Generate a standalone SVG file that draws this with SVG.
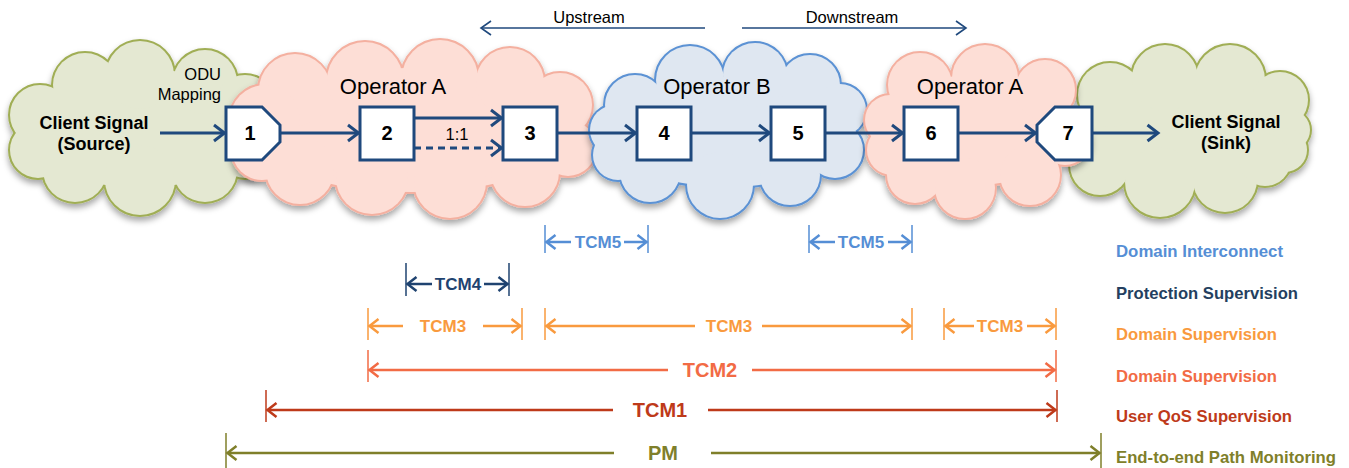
<svg xmlns="http://www.w3.org/2000/svg" xmlns:xlink="http://www.w3.org/1999/xlink" width="1349" height="468" viewBox="0 0 1349 468">
<style>
text{font-family:"Liberation Sans",Arial,sans-serif}
.num{font-size:20px;font-weight:bold;fill:#000;text-anchor:middle}
.lbl{font-size:16.5px;fill:#000;text-anchor:middle}
.op{font-size:22px;fill:#000;text-anchor:middle}
.cs{font-size:18px;font-weight:bold;fill:#000;text-anchor:middle}
.box{fill:#fff;stroke:#1F497D;stroke-width:3}
.flow{stroke:#1F497D;stroke-width:3;fill:none;marker-end:url(#mNavy)}
.dir{stroke:#1F497D;stroke-width:1.6;fill:none;marker-end:url(#mDir)}
.tk{stroke-width:1.5}
.seg{stroke-width:2.5;fill:none}
.t{font-size:17px;font-weight:bold;text-anchor:middle}
.tb{font-size:20px;font-weight:bold;text-anchor:middle}
.lg{font-size:17px;font-weight:bold}
.c5{stroke:#558ED5;fill:#558ED5}
.c4{stroke:#1F4370;fill:#1F4370}
.c3{stroke:#F99A3E;fill:#F99A3E}
.c2{stroke:#F26B45;fill:#F26B45}
.c1{stroke:#BE3A1A;fill:#BE3A1A}
.cp{stroke:#7F7F2A;fill:#7F7F2A}
.seg.c5{marker-end:url(#m5);fill:none}
.seg.c4{marker-end:url(#m4);fill:none}
.seg.c3{marker-end:url(#m3);fill:none}
.seg.c2{marker-end:url(#m2);fill:none}
.seg.c1{marker-end:url(#m1);fill:none}
.seg.cp{marker-end:url(#mp);fill:none}
text.c5,text.c4,text.c3,text.c2,text.c1,text.cp{stroke:none}
</style>
<defs>
<filter id="sh" x="-10%" y="-10%" width="120%" height="130%">
<feDropShadow dx="0" dy="4" stdDeviation="3" flood-color="#000" flood-opacity="0.35"/>
</filter>
<marker id="mNavy" markerUnits="userSpaceOnUse" markerWidth="20" markerHeight="20" refX="12" refY="9" orient="auto" overflow="visible"><path d="M1.5,1 L12,9 L1.5,17" fill="none" stroke="#1F497D" stroke-width="3"/></marker>
<marker id="mDir" markerUnits="userSpaceOnUse" markerWidth="20" markerHeight="20" refX="11" refY="8" orient="auto" overflow="visible"><path d="M1,1 L11,8 L1,15" fill="none" stroke="#1F497D" stroke-width="1.6"/></marker>
<marker id="m5" markerUnits="userSpaceOnUse" markerWidth="20" markerHeight="20" refX="10" refY="8" orient="auto" overflow="visible"><path d="M1,1 L10,8 L1,15" fill="none" stroke="#558ED5" stroke-width="2.5"/></marker>
<marker id="m4" markerUnits="userSpaceOnUse" markerWidth="20" markerHeight="20" refX="10" refY="8" orient="auto" overflow="visible"><path d="M1,1 L10,8 L1,15" fill="none" stroke="#1F4370" stroke-width="2.5"/></marker>
<marker id="m3" markerUnits="userSpaceOnUse" markerWidth="20" markerHeight="20" refX="10" refY="8" orient="auto" overflow="visible"><path d="M1,1 L10,8 L1,15" fill="none" stroke="#F99A3E" stroke-width="2.5"/></marker>
<marker id="m2" markerUnits="userSpaceOnUse" markerWidth="20" markerHeight="20" refX="10" refY="8" orient="auto" overflow="visible"><path d="M1,1 L10,8 L1,15" fill="none" stroke="#F26B45" stroke-width="2.5"/></marker>
<marker id="m1" markerUnits="userSpaceOnUse" markerWidth="20" markerHeight="20" refX="10" refY="8" orient="auto" overflow="visible"><path d="M1,1 L10,8 L1,15" fill="none" stroke="#BE3A1A" stroke-width="2.5"/></marker>
<marker id="mp" markerUnits="userSpaceOnUse" markerWidth="20" markerHeight="20" refX="10" refY="8" orient="auto" overflow="visible"><path d="M1,1 L10,8 L1,15" fill="none" stroke="#7F7F2A" stroke-width="2.5"/></marker>
<g id="cgL">
<ellipse cx="140" cy="128" rx="110" ry="60"/>
<circle cx="85" cy="85" r="32"/><circle cx="140" cy="75" r="34"/><circle cx="205" cy="82" r="32"/><circle cx="245" cy="105" r="30"/>
<circle cx="40" cy="115" r="30"/><circle cx="38" cy="150" r="28"/>
<circle cx="75" cy="170" r="32"/><circle cx="140" cy="180" r="35"/><circle cx="205" cy="170" r="32"/><circle cx="245" cy="150" r="28"/>
</g>
<g id="cpL">
<ellipse cx="412" cy="130" rx="165" ry="62"/>
<circle cx="295" cy="90" r="36"/><circle cx="365" cy="80" r="38"/><circle cx="440" cy="78" r="38"/><circle cx="510" cy="82" r="34"/><circle cx="560" cy="105" r="32"/>
<circle cx="265" cy="120" r="35"/><circle cx="262" cy="150" r="30"/>
<circle cx="300" cy="170" r="34"/><circle cx="372" cy="178" r="36"/><circle cx="450" cy="182" r="36"/><circle cx="525" cy="172" r="34"/><circle cx="568" cy="148" r="28"/>
</g>
<g id="cb">
<ellipse cx="727" cy="132" rx="120" ry="55"/>
<circle cx="635" cy="105" r="30"/><circle cx="690" cy="80" r="34"/><circle cx="755" cy="75" r="32"/><circle cx="810" cy="85" r="30"/><circle cx="840" cy="110" r="26"/>
<circle cx="615" cy="130" r="25"/><circle cx="618" cy="155" r="25"/>
<circle cx="650" cy="172" r="30"/><circle cx="720" cy="185" r="33"/><circle cx="790" cy="175" r="30"/><circle cx="835" cy="150" r="28"/>
</g>
<g id="cpR">
<ellipse cx="975" cy="130" rx="95" ry="55"/>
<circle cx="920" cy="85" r="32"/><circle cx="985" cy="78" r="33"/><circle cx="1045" cy="90" r="30"/>
<circle cx="890" cy="120" r="25"/><circle cx="892" cy="150" r="25"/>
<circle cx="915" cy="175" r="28"/><circle cx="965" cy="188" r="30"/><circle cx="1030" cy="175" r="30"/><circle cx="1065" cy="140" r="25"/>
</g>
<g id="cgR">
<ellipse cx="1185" cy="130" rx="110" ry="58"/>
<circle cx="1110" cy="95" r="32"/><circle cx="1165" cy="78" r="33"/><circle cx="1230" cy="80" r="35"/><circle cx="1280" cy="100" r="28"/>
<circle cx="1290" cy="130" r="20"/><circle cx="1285" cy="150" r="22"/>
<circle cx="1100" cy="165" r="30"/><circle cx="1160" cy="182" r="35"/><circle cx="1225" cy="180" r="32"/><circle cx="1265" cy="160" r="26"/>
</g>
</defs>

<g id="cloud-client-source">
<use xlink:href="#cgL" fill="#A0AE55" stroke="#A0AE55" stroke-width="4" filter="url(#sh)"/>
<use xlink:href="#cgL" fill="#E4E8D2"/>
</g>
<g id="cloud-client-sink">
<use xlink:href="#cgR" fill="#A0AE55" stroke="#A0AE55" stroke-width="4" filter="url(#sh)"/>
<use xlink:href="#cgR" fill="#E4E8D2"/>
</g>
<g id="cloud-operator-a-left">
<use xlink:href="#cpL" fill="#F4B0A0" stroke="#F4B0A0" stroke-width="4" filter="url(#sh)"/>
<use xlink:href="#cpL" fill="#FDDED6"/>
</g>
<g id="cloud-operator-b">
<use xlink:href="#cb" fill="#5B92D4" stroke="#5B92D4" stroke-width="4" filter="url(#sh)"/>
<use xlink:href="#cb" fill="#DFE7F1"/>
</g>
<g id="cloud-operator-a-right">
<use xlink:href="#cpR" fill="#F4B0A0" stroke="#F4B0A0" stroke-width="4" filter="url(#sh)"/>
<use xlink:href="#cpR" fill="#FDDED6"/>
</g>

<g id="labels">
<text class="cs" x="94" y="129">Client Signal</text>
<text class="cs" x="94" y="150">(Source)</text>
<text class="cs" x="1226" y="128">Client Signal</text>
<text class="cs" x="1226" y="149">(Sink)</text>
<text class="lbl" x="221" y="80" style="text-anchor:end">ODU</text>
<text class="lbl" x="221" y="100" style="text-anchor:end">Mapping</text>
<text class="op" x="393" y="94">Operator A</text>
<text class="op" x="717" y="94">Operator B</text>
<text class="op" x="970" y="94">Operator A</text>
<text class="lbl" x="589" y="23">Upstream</text>
<text class="lbl" x="852" y="23">Downstream</text>
<text class="lbl" x="457" y="140">1:1</text>
</g>

<g id="connectors">
<line class="dir" x1="705" y1="28" x2="481" y2="28"/>
<line class="dir" x1="742" y1="28" x2="966" y2="28"/>
<line class="flow" x1="160" y1="133" x2="224.5" y2="133"/>
<line class="flow" x1="280" y1="133" x2="358.5" y2="133"/>
<line class="flow" x1="414" y1="118" x2="501.5" y2="118"/>
<line class="flow" x1="414" y1="148" x2="501.5" y2="148" stroke-dasharray="7 5"/>
<line class="flow" x1="557" y1="133" x2="635.5" y2="133"/>
<line class="flow" x1="691" y1="133" x2="769.5" y2="133"/>
<line class="flow" x1="825" y1="133" x2="902.5" y2="133"/>
<line class="flow" x1="958" y1="133" x2="1035.5" y2="133"/>
<line class="flow" x1="1092" y1="133" x2="1158" y2="133"/>
</g>

<g id="node-1"><path class="box" d="M226,107 L262,107 L280,125 L280,142 L262,160 L226,160 Z"/><text class="num" x="250" y="140">1</text></g>
<g id="node-2"><rect class="box" x="360" y="107" width="54" height="53"/><text class="num" x="387" y="140">2</text></g>
<g id="node-3"><rect class="box" x="503" y="107" width="54" height="53"/><text class="num" x="530" y="140">3</text></g>
<g id="node-4"><rect class="box" x="637" y="107" width="54" height="53"/><text class="num" x="664" y="140">4</text></g>
<g id="node-5"><rect class="box" x="771" y="107" width="54" height="53"/><text class="num" x="798" y="140">5</text></g>
<g id="node-6"><rect class="box" x="904" y="107" width="54" height="53"/><text class="num" x="931" y="140">6</text></g>
<g id="node-7"><path class="box" d="M1092,107 L1055,107 L1037,125 L1037,142 L1055,160 L1092,160 Z"/><text class="num" x="1068" y="140">7</text></g>

<g id="tcm5">
<line class="tk c5" x1="545" y1="225" x2="545" y2="253"/><line class="tk c5" x1="648" y1="225" x2="648" y2="253"/>
<line class="seg c5" x1="571" y1="242" x2="546.5" y2="242"/><line class="seg c5" x1="624" y1="242" x2="646.5" y2="242"/>
<text class="t c5" x="598" y="248">TCM5</text>
<line class="tk c5" x1="809" y1="225" x2="809" y2="253"/><line class="tk c5" x1="912" y1="225" x2="912" y2="253"/>
<line class="seg c5" x1="835" y1="242" x2="810.5" y2="242"/><line class="seg c5" x1="888" y1="242" x2="910.5" y2="242"/>
<text class="t c5" x="861" y="248">TCM5</text>
</g>
<g id="tcm4">
<line class="tk c4" x1="406" y1="263" x2="406" y2="296"/><line class="tk c4" x1="509" y1="263" x2="509" y2="296"/>
<line class="seg c4" x1="432" y1="284" x2="407.5" y2="284"/><line class="seg c4" x1="484" y1="284" x2="507.5" y2="284"/>
<text class="t c4" x="458" y="290">TCM4</text>
</g>
<g id="tcm3">
<line class="tk c3" x1="368" y1="308" x2="368" y2="340"/><line class="tk c3" x1="522" y1="308" x2="522" y2="340"/>
<line class="seg c3" x1="403" y1="326" x2="369.5" y2="326"/><line class="seg c3" x1="483" y1="326" x2="520.5" y2="326"/>
<text class="t c3" x="443" y="332">TCM3</text>
<line class="tk c3" x1="545" y1="308" x2="545" y2="340"/><line class="tk c3" x1="912" y1="308" x2="912" y2="340"/>
<line class="seg c3" x1="695" y1="326" x2="546.5" y2="326"/><line class="seg c3" x1="762" y1="326" x2="910.5" y2="326"/>
<text class="t c3" x="729" y="332">TCM3</text>
<line class="tk c3" x1="944" y1="308" x2="944" y2="340"/><line class="tk c3" x1="1056" y1="308" x2="1056" y2="340"/>
<line class="seg c3" x1="974" y1="326" x2="945.5" y2="326"/><line class="seg c3" x1="1027" y1="326" x2="1054.5" y2="326"/>
<text class="t c3" x="1000" y="332">TCM3</text>
</g>
<g id="tcm2">
<line class="tk c2" x1="368" y1="350" x2="368" y2="382"/><line class="tk c2" x1="1056" y1="350" x2="1056" y2="382"/>
<line class="seg c2" x1="668" y1="370" x2="369.5" y2="370"/><line class="seg c2" x1="752" y1="370" x2="1054.5" y2="370"/>
<text class="tb c2" x="710" y="377">TCM2</text>
</g>
<g id="tcm1">
<line class="tk c1" x1="266" y1="390" x2="266" y2="422"/><line class="tk c1" x1="1057" y1="390" x2="1057" y2="422"/>
<line class="seg c1" x1="613" y1="410" x2="267.5" y2="410"/><line class="seg c1" x1="708" y1="410" x2="1055.5" y2="410"/>
<text class="tb c1" x="660" y="417">TCM1</text>
</g>
<g id="pm">
<line class="tk cp" x1="226" y1="433" x2="226" y2="468"/><line class="tk cp" x1="1101" y1="433" x2="1101" y2="468"/>
<line class="seg cp" x1="614" y1="453" x2="227.5" y2="453"/><line class="seg cp" x1="711" y1="453" x2="1099.5" y2="453"/>
<text class="tb cp" x="663" y="460">PM</text>
</g>

<g id="legend">
<text class="lg c5" x="1116" y="257" textLength="167" lengthAdjust="spacingAndGlyphs">Domain Interconnect</text>
<text class="lg" x="1116" y="299" fill="#243F60" textLength="182" lengthAdjust="spacingAndGlyphs">Protection Supervision</text>
<text class="lg c3" x="1116" y="340" textLength="161" lengthAdjust="spacingAndGlyphs">Domain Supervision</text>
<text class="lg c2" x="1116" y="382" textLength="161" lengthAdjust="spacingAndGlyphs">Domain Supervision</text>
<text class="lg c1" x="1116" y="422" textLength="176" lengthAdjust="spacingAndGlyphs">User QoS Supervision</text>
<text class="lg cp" x="1116" y="463" textLength="220" lengthAdjust="spacingAndGlyphs">End-to-end Path Monitoring</text>
</g>
</svg>
